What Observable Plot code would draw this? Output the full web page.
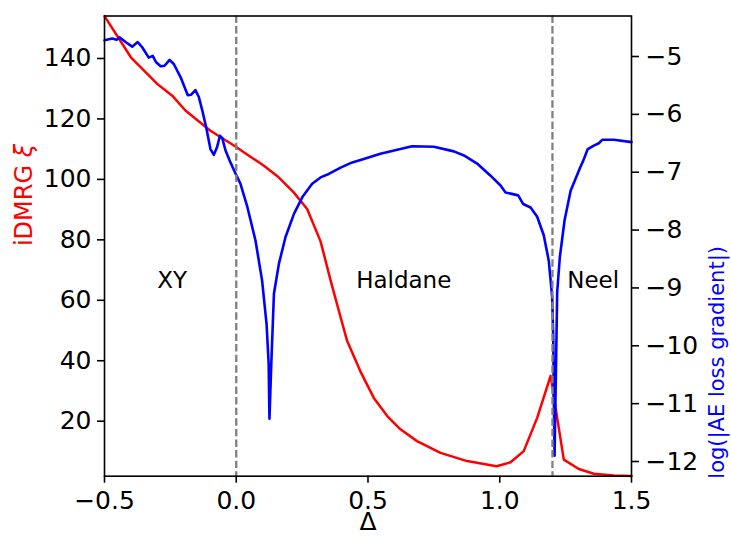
<!DOCTYPE html>
<html>
<head>
<meta charset="utf-8">
<script src="https://cdn.jsdelivr.net/npm/d3@7"></script>
<script src="https://cdn.jsdelivr.net/npm/@observablehq/plot@0.6"></script>
<style>
  html, body { margin: 0; padding: 0; background: white; }
</style>
</head>
<body>
<div id="chart"></div>
<script>
// ---- Data ----
const xiDelta = [-0.5, -0.40, -0.30, -0.243, -0.193, -0.098, -0.009, 0.105, 0.161, 0.218, 0.269, 0.32, 0.358, 0.396, 0.421, 0.471, 0.522, 0.573, 0.623, 0.686, 0.775, 0.876, 0.988, 1.041, 1.091, 1.142, 1.193, 1.243, 1.30, 1.357, 1.433, 1.5];
const xiValue = [154, 140.4, 131.6, 127.7, 122.8, 116.1, 111.2, 104.5, 100.7, 95.7, 90.2, 79.5, 66.6, 54.4, 46.5, 36.5, 27.7, 21.7, 17.3, 13.4, 9.5, 6.8, 5.1, 6.4, 10.1, 21.1, 35.0, 7.3, 4.2, 2.6, 2.0, 1.9];

const gradDelta = [-0.5, -0.471, -0.454, -0.442, -0.42, -0.395, -0.374, -0.357, -0.332, -0.317, -0.304, -0.287, -0.272, -0.253, -0.237, -0.211, -0.184, -0.171, -0.155, -0.142, -0.129, -0.113, -0.098, -0.085, -0.073, -0.062, -0.053, -0.041, -0.022, 0.001, 0.016, 0.041, 0.073, 0.098, 0.115, 0.123, 0.126, 0.133, 0.143, 0.162, 0.187, 0.219, 0.251, 0.288, 0.32, 0.351, 0.396, 0.44, 0.484, 0.547, 0.611, 0.667, 0.75, 0.826, 0.864, 0.914, 0.965, 1.003, 1.022, 1.041, 1.07, 1.089, 1.117, 1.142, 1.167, 1.186, 1.199, 1.203, 1.205, 1.208, 1.211, 1.218, 1.228, 1.246, 1.269, 1.306, 1.317, 1.334, 1.357, 1.376, 1.389, 1.433, 1.5];
const gradLog = [-4.72, -4.69, -4.71, -4.67, -4.75, -4.83, -4.75, -4.84, -5.02, -4.99, -5.10, -5.17, -5.16, -5.06, -5.13, -5.36, -5.67, -5.66, -5.58, -5.70, -5.93, -6.25, -6.60, -6.70, -6.57, -6.37, -6.41, -6.62, -6.83, -7.06, -7.20, -7.58, -8.18, -8.87, -9.62, -10.31, -11.26, -10.31, -9.10, -8.58, -8.12, -7.72, -7.43, -7.20, -7.09, -7.03, -6.92, -6.83, -6.77, -6.68, -6.61, -6.55, -6.56, -6.64, -6.71, -6.85, -7.06, -7.23, -7.35, -7.37, -7.40, -7.55, -7.61, -7.77, -8.09, -8.53, -9.16, -9.85, -10.8, -11.90, -11.06, -9.07, -8.47, -7.83, -7.32, -6.91, -6.80, -6.60, -6.54, -6.50, -6.44, -6.44, -6.48];

const transitions = [0, 1.2];
const phaseNames = ["XY", "Haldane", "Neel"];
const phaseX = [-0.3, 0.455, 1.256];
const phaseY = [66.4, 66.4, 66.4];

const xTicks = [-0.5, 0, 0.5, 1.0, 1.5];
const leftTicks = [20, 40, 60, 80, 100, 120, 140];
const rightTicks = [-5, -6, -7, -8, -9, -10, -11, -12];

const leftDomain = [1.8, 154.06];
const rightDomain = [-12.254, -4.30];

// ---- Helpers ----
const toLeft = v => leftDomain[0] + (v - rightDomain[0]) / (rightDomain[1] - rightDomain[0]) * (leftDomain[1] - leftDomain[0]);
const fromLeft = y => rightDomain[0] + (y - leftDomain[0]) / (leftDomain[1] - leftDomain[0]) * (rightDomain[1] - rightDomain[0]);
const minus = s => s.replace("-", "\u2212");

const xiData = xiDelta.map((d, i) => ({x: d, y: xiValue[i]}));
const gradData = gradDelta.map((d, i) => ({x: d, y: gradLog[i]}));
const phaseData = phaseNames.map((n, i) => ({name: n, x: phaseX[i], y: phaseY[i]}));

const chart = Plot.plot({
  width: 731,
  height: 540,
  marginLeft: 104,
  marginRight: 100,
  marginTop: 15.5,
  marginBottom: 64.3,
  style: {fontFamily: "'DejaVu Sans'", fontSize: "25px", background: "white", color: "black"},
  x: {domain: [-0.5, 1.5]},
  y: {domain: leftDomain},
  marks: [
    Plot.line(xiData, {x: "x", y: "y", stroke: "#ff0000", strokeWidth: 2.5}),
    Plot.line(gradData, {x: "x", y: d => toLeft(d.y), stroke: "#0000ff", strokeWidth: 2.6}),
    Plot.ruleX(transitions, {stroke: "#808080", strokeWidth: 2.3, strokeDasharray: "7.4,3.2"}),
    Plot.text(phaseData, {x: "x", y: "y", text: "name", textAnchor: "start", fontSize: 23, fill: "black"}),
    Plot.frame({stroke: "black", strokeWidth: 1.6}),
    Plot.axisX(xTicks, {tickSize: 7, tickPadding: 8, strokeWidth: 1.6, label: null,
      tickFormat: d => minus(d.toFixed(1)), fontSize: 25}),
    Plot.axisY(leftTicks, {anchor: "left", tickSize: 7, tickPadding: 6, strokeWidth: 1.6, label: null,
      tickFormat: d => String(d), fontSize: 25}),
    Plot.axisY(rightTicks.map(toLeft), {anchor: "right", tickSize: 7, tickPadding: 7, strokeWidth: 1.6, label: null,
      tickFormat: d => minus(String(Math.round(fromLeft(d)))), fontSize: 25}),
    Plot.text(["\u0394"], {frameAnchor: "bottom", dy: 54, fontSize: 25, fill: "black"}),
    Plot.text(["iDMRG \u03be"], {frameAnchor: "left", dx: -80, rotate: -90, fontSize: 24, fill: "#ff0000"}),
    Plot.text(["log(|AE loss gradient|)"], {frameAnchor: "right", dx: 86, rotate: -90, fontSize: 21, fill: "#0000ff"})
  ]
});

// italic xi as in the mathtext label
chart.querySelectorAll("text").forEach(t => {
  if (t.textContent === "iDMRG \u03be") {
    t.textContent = "iDMRG ";
    const ts = document.createElementNS("http://www.w3.org/2000/svg", "tspan");
    ts.setAttribute("font-style", "italic");
    ts.textContent = "\u03be";
    t.appendChild(ts);
  }
});

document.getElementById("chart").appendChild(chart);
</script>
</body>
</html>
